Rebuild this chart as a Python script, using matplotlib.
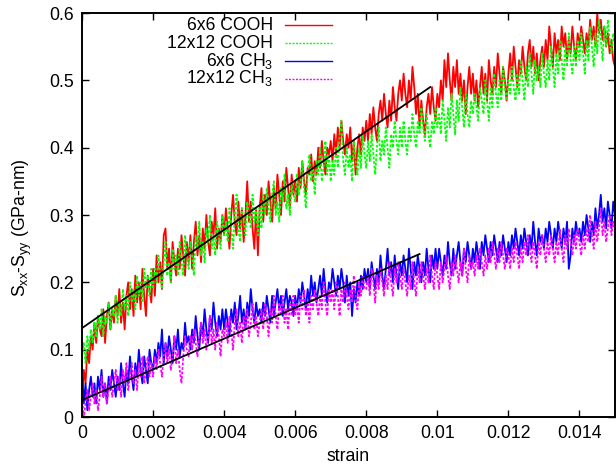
import numpy as np
import matplotlib.pyplot as plt
from matplotlib.lines import Line2D
from matplotlib.ticker import FormatStrFormatter

plt.rcParams['font.family'] = ['Liberation Sans', 'DejaVu Sans']
plt.rcParams['mathtext.fontset'] = 'custom'
plt.rcParams['mathtext.rm'] = 'Liberation Sans'
plt.rcParams['mathtext.it'] = 'Liberation Sans'
plt.rcParams['mathtext.default'] = 'regular'

# strain grid of the simulation output
strain = np.arange(301) * 0.00005

# one row = 0.001 strain
cooh_6x6 = [
    0.03, 0.07, 0.05, 0.10, 0.08, 0.12, 0.10, 0.14, 0.11, 0.15, 0.13, 0.12, 0.16, 0.11, 0.15, 0.17, 0.13, 0.16, 0.14, 0.18,
    0.15, 0.19, 0.14, 0.17, 0.13, 0.18, 0.20, 0.16, 0.19, 0.15, 0.21, 0.17, 0.20, 0.16, 0.22, 0.18, 0.15, 0.21, 0.19, 0.17,
    0.22, 0.18, 0.24, 0.20, 0.23, 0.19, 0.27, 0.28, 0.22, 0.25, 0.20, 0.26, 0.23, 0.21, 0.25, 0.22, 0.27, 0.24, 0.21, 0.26,
    0.23, 0.27, 0.22, 0.26, 0.29, 0.24, 0.27, 0.23, 0.28, 0.25, 0.30, 0.26, 0.24, 0.29, 0.27, 0.31, 0.25, 0.28, 0.26, 0.30,
    0.27, 0.31, 0.28, 0.25, 0.30, 0.33, 0.29, 0.27, 0.32, 0.28, 0.31, 0.26, 0.30, 0.35, 0.29, 0.32, 0.28, 0.25, 0.31, 0.24,
    0.31, 0.34, 0.29, 0.33, 0.30, 0.35, 0.32, 0.29, 0.34, 0.31, 0.36, 0.33, 0.30, 0.35, 0.32, 0.37, 0.34, 0.31, 0.36, 0.33,
    0.35, 0.32, 0.37, 0.34, 0.38, 0.35, 0.33, 0.37, 0.36, 0.39, 0.35, 0.38, 0.36, 0.40, 0.37, 0.41, 0.38, 0.36, 0.40, 0.39,
    0.41, 0.38, 0.42, 0.39, 0.43, 0.40, 0.44, 0.41, 0.39, 0.42, 0.40, 0.43, 0.38, 0.41, 0.36, 0.40, 0.42, 0.39, 0.43, 0.41,
    0.44, 0.41, 0.45, 0.42, 0.46, 0.43, 0.41, 0.45, 0.47, 0.44, 0.48, 0.45, 0.43, 0.47, 0.44, 0.49, 0.46, 0.44, 0.48, 0.50,
    0.47, 0.51, 0.48, 0.46, 0.50, 0.47, 0.52, 0.49, 0.45, 0.48, 0.43, 0.47, 0.44, 0.42, 0.46, 0.48, 0.45, 0.49, 0.46, 0.44,
    0.48, 0.46, 0.50, 0.47, 0.53, 0.49, 0.54, 0.50, 0.47, 0.52, 0.49, 0.53, 0.48, 0.51, 0.47, 0.50, 0.45, 0.49, 0.52, 0.48,
    0.51, 0.47, 0.50, 0.46, 0.49, 0.52, 0.48, 0.51, 0.47, 0.53, 0.50, 0.48, 0.52, 0.49, 0.54, 0.51, 0.48, 0.52, 0.50, 0.47,
    0.51, 0.54, 0.50, 0.55, 0.52, 0.49, 0.53, 0.51, 0.55, 0.52, 0.50, 0.54, 0.56, 0.52, 0.55, 0.51, 0.54, 0.50, 0.53, 0.55,
    0.52, 0.56, 0.53, 0.58, 0.55, 0.52, 0.57, 0.54, 0.56, 0.53, 0.58, 0.55, 0.57, 0.53, 0.56, 0.54, 0.58, 0.55, 0.53, 0.57,
    0.55, 0.58, 0.56, 0.54, 0.57, 0.55, 0.59, 0.56, 0.58, 0.55, 0.60, 0.57, 0.59, 0.56, 0.58, 0.55, 0.57, 0.54, 0.56, 0.53,
    0.52,
]

cooh_12x12 = [
    0.09, 0.11, 0.08, 0.12, 0.10, 0.13, 0.11, 0.14, 0.12, 0.15, 0.13, 0.16, 0.12, 0.15, 0.14, 0.17, 0.13, 0.16, 0.15, 0.18,
    0.14, 0.17, 0.15, 0.19, 0.16, 0.18, 0.15, 0.20, 0.17, 0.19, 0.16, 0.21, 0.18, 0.20, 0.17, 0.22, 0.19, 0.21, 0.18, 0.22,
    0.19, 0.22, 0.20, 0.24, 0.21, 0.19, 0.23, 0.26, 0.21, 0.23, 0.20, 0.25, 0.22, 0.24, 0.21, 0.26, 0.23, 0.21, 0.27, 0.24,
    0.22, 0.26, 0.24, 0.21, 0.27, 0.25, 0.29, 0.24, 0.26, 0.23, 0.28, 0.26, 0.30, 0.25, 0.27, 0.24, 0.29, 0.27, 0.25, 0.30,
    0.27, 0.29, 0.26, 0.31, 0.28, 0.25, 0.30, 0.33, 0.28, 0.26, 0.31, 0.29, 0.27, 0.32, 0.30, 0.28, 0.33, 0.29, 0.31, 0.27,
    0.31, 0.28, 0.33, 0.30, 0.34, 0.31, 0.29, 0.33, 0.35, 0.30, 0.32, 0.29, 0.34, 0.32, 0.36, 0.31, 0.33, 0.30, 0.35, 0.33,
    0.32, 0.36, 0.33, 0.35, 0.38, 0.34, 0.31, 0.36, 0.39, 0.35, 0.37, 0.33, 0.38, 0.36, 0.40, 0.35, 0.37, 0.41, 0.36, 0.39,
    0.35, 0.38, 0.36, 0.40, 0.37, 0.42, 0.44, 0.38, 0.36, 0.40, 0.37, 0.39, 0.35, 0.41, 0.38, 0.36, 0.40, 0.37, 0.42, 0.39,
    0.37, 0.41, 0.38, 0.42, 0.39, 0.36, 0.40, 0.43, 0.38, 0.41, 0.39, 0.43, 0.40, 0.37, 0.42, 0.40, 0.44, 0.41, 0.39, 0.43,
    0.40, 0.44, 0.41, 0.39, 0.43, 0.41, 0.45, 0.42, 0.40, 0.44, 0.42, 0.46, 0.43, 0.41, 0.45, 0.42, 0.40, 0.44, 0.42, 0.46,
    0.43, 0.45, 0.42, 0.47, 0.44, 0.41, 0.46, 0.43, 0.48, 0.45, 0.42, 0.47, 0.44, 0.49, 0.46, 0.43, 0.48, 0.45, 0.43, 0.47,
    0.45, 0.48, 0.46, 0.44, 0.49, 0.47, 0.45, 0.50, 0.47, 0.44, 0.49, 0.46, 0.51, 0.48, 0.46, 0.50, 0.47, 0.52, 0.49, 0.47,
    0.50, 0.48, 0.52, 0.49, 0.47, 0.51, 0.48, 0.53, 0.50, 0.47, 0.52, 0.49, 0.54, 0.51, 0.48, 0.53, 0.50, 0.52, 0.49, 0.54,
    0.51, 0.49, 0.53, 0.50, 0.55, 0.52, 0.49, 0.54, 0.51, 0.56, 0.53, 0.50, 0.55, 0.52, 0.57, 0.53, 0.51, 0.55, 0.52, 0.56,
    0.53, 0.57, 0.54, 0.51, 0.56, 0.53, 0.58, 0.55, 0.52, 0.57, 0.54, 0.59, 0.56, 0.53, 0.58, 0.55, 0.59, 0.56, 0.54, 0.57,
    0.55,
]

ch3_6x6 = [
    0.07, 0.02, 0.05, 0.01, 0.04, 0.06, 0.03, 0.05, 0.02, 0.06, 0.04, 0.07, 0.03, 0.05, 0.02, 0.06, 0.04, 0.07, 0.05, 0.03,
    0.06, 0.04, 0.08, 0.05, 0.03, 0.07, 0.05, 0.09, 0.06, 0.04, 0.08, 0.06, 0.10, 0.07, 0.05, 0.09, 0.07, 0.05, 0.10, 0.08,
    0.07, 0.10, 0.08, 0.11, 0.09, 0.13, 0.08, 0.11, 0.09, 0.12, 0.10, 0.08, 0.12, 0.10, 0.13, 0.09, 0.11, 0.10, 0.14, 0.11,
    0.12, 0.10, 0.13, 0.11, 0.15, 0.12, 0.10, 0.14, 0.12, 0.16, 0.13, 0.11, 0.15, 0.13, 0.17, 0.14, 0.12, 0.15, 0.13, 0.16,
    0.13, 0.16, 0.14, 0.12, 0.16, 0.14, 0.17, 0.13, 0.15, 0.18, 0.14, 0.16, 0.13, 0.17, 0.15, 0.19, 0.16, 0.14, 0.17, 0.15,
    0.16, 0.14, 0.17, 0.15, 0.18, 0.16, 0.14, 0.18, 0.15, 0.17, 0.19, 0.16, 0.18, 0.15, 0.17, 0.19, 0.16, 0.18, 0.17, 0.15,
    0.18, 0.16, 0.19, 0.17, 0.20, 0.18, 0.16, 0.19, 0.17, 0.21, 0.18, 0.20, 0.17, 0.19, 0.21, 0.18, 0.22, 0.19, 0.17, 0.20,
    0.19, 0.22, 0.20, 0.18, 0.21, 0.19, 0.22, 0.20, 0.17, 0.21, 0.18, 0.20, 0.15, 0.19, 0.17, 0.20, 0.18, 0.21, 0.19, 0.22,
    0.20, 0.22, 0.19, 0.23, 0.21, 0.19, 0.22, 0.20, 0.24, 0.21, 0.19, 0.22, 0.25, 0.21, 0.23, 0.20, 0.24, 0.21, 0.19, 0.23,
    0.21, 0.24, 0.22, 0.20, 0.25, 0.22, 0.19, 0.23, 0.21, 0.24, 0.22, 0.20, 0.23, 0.21, 0.25, 0.22, 0.20, 0.24, 0.22, 0.25,
    0.22, 0.25, 0.23, 0.21, 0.24, 0.22, 0.26, 0.23, 0.21, 0.25, 0.22, 0.24, 0.26, 0.23, 0.21, 0.25, 0.23, 0.26, 0.24, 0.22,
    0.25, 0.23, 0.26, 0.24, 0.22, 0.26, 0.24, 0.27, 0.25, 0.23, 0.26, 0.24, 0.27, 0.25, 0.23, 0.26, 0.24, 0.27, 0.25, 0.23,
    0.26, 0.24, 0.27, 0.25, 0.28, 0.26, 0.24, 0.27, 0.25, 0.28, 0.26, 0.24, 0.27, 0.25, 0.29, 0.26, 0.24, 0.28, 0.26, 0.27,
    0.25, 0.28, 0.26, 0.29, 0.27, 0.25, 0.28, 0.26, 0.29, 0.27, 0.25, 0.28, 0.26, 0.29, 0.22, 0.24, 0.28, 0.26, 0.29, 0.27,
    0.28, 0.26, 0.29, 0.27, 0.30, 0.28, 0.26, 0.29, 0.27, 0.31, 0.28, 0.30, 0.33, 0.29, 0.31, 0.28, 0.32, 0.30, 0.28, 0.32,
    0.30,
]

ch3_12x12 = [
    0.03, 0.00, 0.02, 0.04, 0.01, 0.03, 0.05, 0.02, 0.04, 0.01, 0.03, 0.06, 0.03, 0.05, 0.02, 0.04, 0.06, 0.03, 0.05, 0.07,
    0.04, 0.06, 0.03, 0.07, 0.05, 0.08, 0.04, 0.06, 0.08, 0.05, 0.07, 0.04, 0.08, 0.06, 0.09, 0.05, 0.07, 0.09, 0.06, 0.08,
    0.06, 0.09, 0.07, 0.10, 0.08, 0.06, 0.09, 0.11, 0.08, 0.10, 0.07, 0.09, 0.12, 0.08, 0.10, 0.07, 0.05, 0.09, 0.12, 0.10,
    0.09, 0.12, 0.10, 0.13, 0.11, 0.09, 0.12, 0.14, 0.11, 0.13, 0.10, 0.12, 0.15, 0.11, 0.13, 0.10, 0.14, 0.12, 0.09, 0.13,
    0.12, 0.14, 0.11, 0.15, 0.13, 0.10, 0.14, 0.16, 0.12, 0.14, 0.11, 0.15, 0.13, 0.16, 0.12, 0.14, 0.17, 0.13, 0.15, 0.12,
    0.14, 0.16, 0.13, 0.17, 0.15, 0.12, 0.16, 0.14, 0.18, 0.15, 0.13, 0.17, 0.15, 0.18, 0.14, 0.16, 0.13, 0.17, 0.15, 0.18,
    0.15, 0.17, 0.14, 0.18, 0.16, 0.19, 0.15, 0.17, 0.14, 0.18, 0.16, 0.19, 0.17, 0.15, 0.18, 0.16, 0.20, 0.17, 0.15, 0.19,
    0.17, 0.19, 0.16, 0.20, 0.18, 0.15, 0.19, 0.17, 0.20, 0.18, 0.16, 0.19, 0.17, 0.21, 0.18, 0.16, 0.20, 0.18, 0.21, 0.19,
    0.19, 0.21, 0.18, 0.22, 0.20, 0.17, 0.21, 0.19, 0.22, 0.20, 0.18, 0.21, 0.19, 0.23, 0.20, 0.18, 0.22, 0.20, 0.23, 0.21,
    0.19, 0.22, 0.20, 0.18, 0.21, 0.19, 0.23, 0.20, 0.18, 0.22, 0.20, 0.23, 0.21, 0.19, 0.22, 0.20, 0.24, 0.21, 0.19, 0.23,
    0.21, 0.19, 0.23, 0.20, 0.22, 0.24, 0.21, 0.19, 0.23, 0.21, 0.24, 0.22, 0.20, 0.23, 0.21, 0.25, 0.22, 0.20, 0.24, 0.22,
    0.23, 0.21, 0.24, 0.22, 0.25, 0.23, 0.21, 0.24, 0.22, 0.25, 0.23, 0.26, 0.24, 0.22, 0.25, 0.23, 0.26, 0.24, 0.22, 0.25,
    0.24, 0.22, 0.25, 0.23, 0.26, 0.24, 0.22, 0.25, 0.23, 0.26, 0.24, 0.27, 0.25, 0.23, 0.26, 0.24, 0.22, 0.26, 0.24, 0.27,
    0.25, 0.23, 0.26, 0.24, 0.27, 0.25, 0.23, 0.26, 0.24, 0.28, 0.25, 0.23, 0.27, 0.25, 0.28, 0.26, 0.24, 0.27, 0.25, 0.28,
    0.26, 0.24, 0.27, 0.25, 0.28, 0.26, 0.30, 0.27, 0.25, 0.29, 0.26, 0.28, 0.31, 0.27, 0.29, 0.26, 0.28, 0.30, 0.27, 0.29,
    0.28,
]

labels = ['6x6 COOH', '12x12 COOH', '6x6 CH$_3$', '12x12 CH$_3$']

# linear fits (end points)
fit_cooh_x = [0.0, 0.0098]
fit_cooh_y = [0.132, 0.490]
fit_ch3_x = [0.0, 0.0095]
fit_ch3_y = [0.025, 0.242]

fs = 12.7
W, H = 616, 470
styles = [
    dict(color='#ff0000', lw=1.3),
    dict(color='#00ff00', lw=1.3, dashes=(1.5, 1)),
    dict(color='#0000ff', lw=1.3),
    dict(color='#ff00ff', lw=1.3, dashes=(1.5, 1)),
]

fig = plt.figure(figsize=(W / 100, H / 100), dpi=100)
ax = fig.add_axes([82 / W, 53 / H, 533 / W, 404 / H])

for ys, st in zip([cooh_6x6, cooh_12x12, ch3_6x6, ch3_12x12], styles):
    ax.plot(strain, ys, **st)
ax.plot(fit_cooh_x, fit_cooh_y, color='black', lw=1.3)
ax.plot(fit_ch3_x, fit_ch3_y, color='black', lw=1.3)

ax.set_xlim(0, 0.015)
ax.set_ylim(0, 0.6)
ax.set_xticks(np.arange(0, 0.0141, 0.002))
ax.set_yticks(np.arange(0, 0.61, 0.1))
ax.xaxis.set_major_formatter(FormatStrFormatter('%g'))
ax.yaxis.set_major_formatter(FormatStrFormatter('%g'))
ax.tick_params(direction='in', length=5, width=1, top=True, right=True, labelsize=fs, pad=6)
for s in ax.spines.values():
    s.set_linewidth(1.4)

ax.set_xlabel('strain', fontsize=fs)
ax.set_ylabel('S$_{xx}$-S$_{yy}$ (GPa-nm)', fontsize=fs)
ax.yaxis.set_label_coords((34 - 82) / 533, (417 - 228) / 404)

# gnuplot style key: text right aligned, sample to the right
for i, (lab, st) in enumerate(zip(labels, styles)):
    yk = 1 - (25 + 18 * i) / H
    key_st = dict(st, lw=1.0)
    fig.add_artist(Line2D([285 / W, 332 / W], [yk, yk], **key_st))
    fig.text(273 / W, yk - 4.5 / H, lab, ha='right', va='baseline', fontsize=fs)

fig.savefig('out.png', dpi=100)
